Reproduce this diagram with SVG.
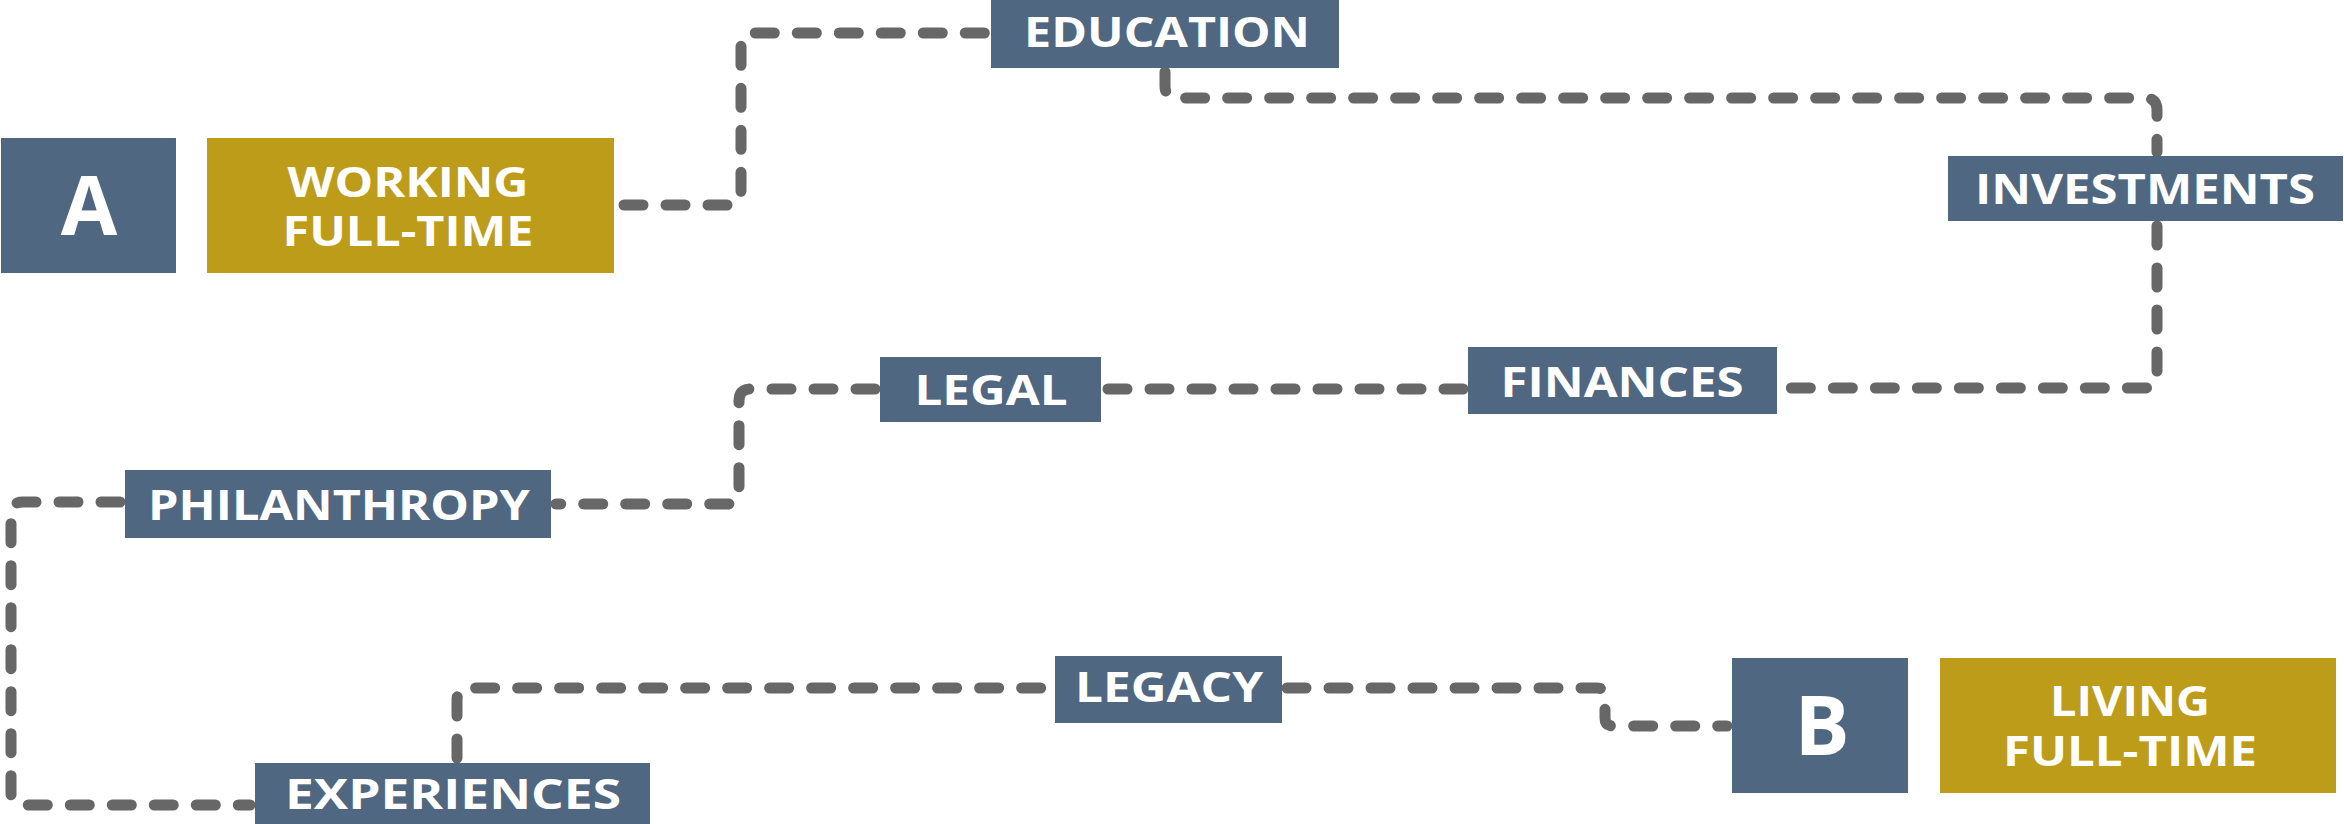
<svg xmlns="http://www.w3.org/2000/svg" width="2344" height="824" viewBox="0 0 2344 824">
<style>
.blue{fill:#4F6781}
.gold{fill:#BD9C1A}
.t{font-family:"Open Sans","Liberation Sans",sans-serif;font-weight:700;fill:#FFFFFF;text-anchor:middle;font-size:41px}
.big{font-size:82px}
.c{fill:none;stroke:#676767;stroke-width:11;stroke-linecap:round;stroke-linejoin:round;stroke-dasharray:19 23}
</style>
<rect width="2344" height="824" fill="#FFFFFF"/>
<g id="connectors">
<path class="c" d="M624 205 H729 Q741 205 741 193 V45 Q741 33 753 33 H986"/>
<path class="c" d="M1165 72 V86 Q1165 98 1177 98 H2145 Q2157 98 2157 110 V152"/>
<path class="c" d="M2157 226 V376 Q2157 388 2145 388 H1782"/>
<path class="c" d="M1463 389 H1105"/>
<path class="c" d="M875 389 H751 Q739 389 739 401 V492 Q739 504 727 504 H556"/>
<path class="c" d="M120 502 H23 Q11 502 11 514 V793 Q11 805 23 805 H250"/>
<path class="c" d="M457 758 V700 Q457 688 469 688 H1050"/>
<path class="c" d="M1287 688 H1597 Q1605 688 1605 696 V718 Q1605 726 1613 726 H1727"/>
</g>
<g id="node-a">
<rect class="blue" x="1" y="138" width="175" height="135"/>
<text class="t big" x="89" y="235">A</text>
</g>
<g id="node-working">
<rect class="gold" x="207" y="138" width="407" height="135"/>
<text class="t" x="408" y="197" textLength="241" lengthAdjust="spacingAndGlyphs">WORKING</text>
<text class="t" x="408" y="246" textLength="251" lengthAdjust="spacingAndGlyphs">FULL-TIME</text>
</g>
<g id="node-education">
<rect class="blue" x="991" y="0" width="348" height="68"/>
<text class="t" x="1167" y="47" textLength="286" lengthAdjust="spacingAndGlyphs">EDUCATION</text>
</g>
<g id="node-investments">
<rect class="blue" x="1948" y="156" width="395" height="65"/>
<text class="t" x="2145" y="204" textLength="340" lengthAdjust="spacingAndGlyphs">INVESTMENTS</text>
</g>
<g id="node-finances">
<rect class="blue" x="1468" y="347" width="309" height="67"/>
<text class="t" x="1622" y="397" textLength="243" lengthAdjust="spacingAndGlyphs">FINANCES</text>
</g>
<g id="node-legal">
<rect class="blue" x="880" y="357" width="221" height="65"/>
<text class="t" x="991" y="405" textLength="153" lengthAdjust="spacingAndGlyphs">LEGAL</text>
</g>
<g id="node-philanthropy">
<rect class="blue" x="125" y="470" width="426" height="68"/>
<text class="t" x="339" y="520" textLength="382" lengthAdjust="spacingAndGlyphs">PHILANTHROPY</text>
</g>
<g id="node-experiences">
<rect class="blue" x="255" y="763" width="395" height="61"/>
<text class="t" x="453" y="809" textLength="336" lengthAdjust="spacingAndGlyphs">EXPERIENCES</text>
</g>
<g id="node-legacy">
<rect class="blue" x="1055" y="656" width="227" height="67"/>
<text class="t" x="1169" y="702" textLength="188" lengthAdjust="spacingAndGlyphs">LEGACY</text>
</g>
<g id="node-b">
<rect class="blue" x="1732" y="658" width="176" height="135"/>
<text class="t big" x="1822" y="755">B</text>
</g>
<g id="node-living">
<rect class="gold" x="1940" y="658" width="396" height="135"/>
<text class="t" x="2130" y="716" textLength="160" lengthAdjust="spacingAndGlyphs">LIVING</text>
<text class="t" x="2130" y="766" textLength="254" lengthAdjust="spacingAndGlyphs">FULL-TIME</text>
</g>
</svg>
